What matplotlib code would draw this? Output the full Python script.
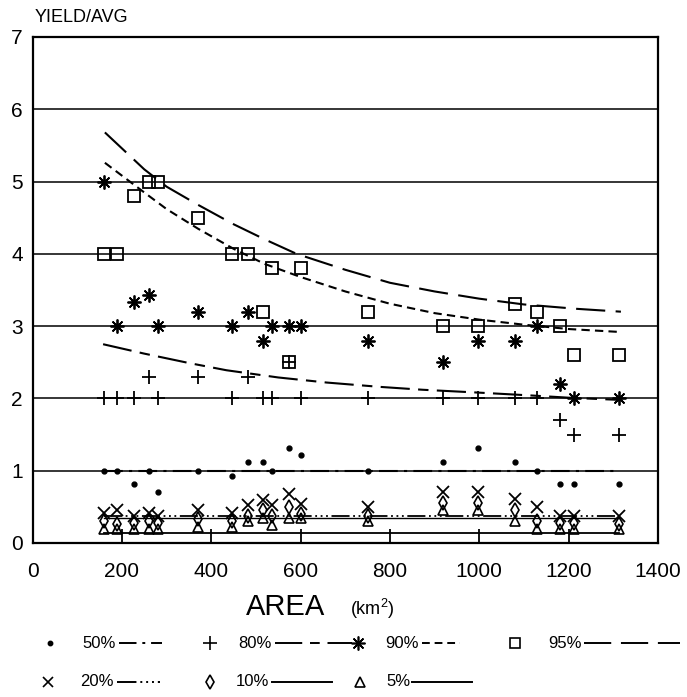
import matplotlib
matplotlib.use("Agg")
import matplotlib.pyplot as plt
import numpy as np

plt.rcParams['font.family'] = ['Liberation Sans', 'DejaVu Sans']

# station areas (km2)
area = [160, 190, 228, 260, 280, 370, 447, 482, 516, 537,
        573, 600, 752, 918, 997, 1079, 1130, 1180, 1212, 1312]

# observed yield/avg for each exceedance level
p50 = [1.0, 1.0, 0.82, 1.0, 0.71, 1.0, 0.92, 1.12, 1.12, 1.0,
       1.32, 1.22, 1.0, 1.12, 1.32, 1.12, 1.0, 0.81, 0.81, 0.81]
p80 = [2.0, 2.0, 2.0, 2.3, 2.0, 2.3, 2.0, 2.3, 2.0, 2.0,
       2.5, 2.0, 2.0, 2.0, 2.0, 2.0, 2.0, 1.7, 1.5, 1.5]
p90 = [5.0, 3.0, 3.33, 3.43, 3.0, 3.2, 3.0, 3.2, 2.8, 3.0,
       3.0, 3.0, 2.8, 2.5, 2.8, 2.8, 3.0, 2.2, 2.0, 2.0]
p95 = [4.0, 4.0, 4.8, 5.0, 5.0, 4.5, 4.0, 4.0, 3.2, 3.8,
       2.5, 3.8, 3.2, 3.0, 3.0, 3.3, 3.2, 3.0, 2.6, 2.6]
p20 = [0.41, 0.46, 0.37, 0.41, 0.37, 0.46, 0.41, 0.52, 0.6, 0.52,
       0.68, 0.54, 0.5, 0.71, 0.71, 0.61, 0.5, 0.37, 0.37, 0.38]
p10 = [0.3, 0.26, 0.28, 0.3, 0.27, 0.33, 0.3, 0.38, 0.45, 0.38,
       0.5, 0.4, 0.38, 0.55, 0.55, 0.45, 0.3, 0.27, 0.27, 0.26]
p05 = [0.2, 0.2, 0.2, 0.2, 0.2, 0.22, 0.22, 0.3, 0.35, 0.25,
       0.35, 0.35, 0.3, 0.45, 0.45, 0.3, 0.2, 0.2, 0.2, 0.2]

# fitted curves
c95_x = [162, 250, 300, 370, 450, 520, 591, 700, 800, 900, 1000, 1100, 1217, 1317]
c95_y = [5.68, 5.17, 4.93, 4.68, 4.41, 4.2, 4.0, 3.78, 3.6, 3.48, 3.38, 3.3, 3.24, 3.2]
c90_x = [162, 250, 300, 370, 450, 520, 600, 700, 800, 900, 1000, 1100, 1200, 1313]
c90_y = [5.26, 4.85, 4.62, 4.35, 4.07, 3.86, 3.68, 3.48, 3.31, 3.18, 3.09, 3.02, 2.96, 2.92]
c80_x = [158, 250, 350, 434, 550, 658, 777, 873, 1000, 1119, 1200, 1313]
c80_y = [2.75, 2.62, 2.49, 2.39, 2.29, 2.22, 2.16, 2.12, 2.08, 2.04, 2.01, 1.98]
flat_x = [160, 1312]
c50_y = [1.0, 1.0]
c20_y = [0.37, 0.37]
c10_y = [0.35, 0.35]
c05_y = [0.14, 0.14]

x_ticks = [0, 200, 400, 600, 800, 1000, 1200, 1400]
y_ticks = [0, 1, 2, 3, 4, 5, 6, 7]

ls50 = (0, (9, 3, 1.5, 3))
ls80 = (0, (14, 4, 5, 4))
ls90 = (0, (4, 2.5))
ls95 = (0, (14, 5))
ls20 = (0, (10, 2, 1, 2, 1, 2, 1, 2))
aster = (8, 2, 0)

fig = plt.figure(figsize=(6.87, 6.97), dpi=100)
ax = fig.add_axes([32.5/687, 1-543/697, (658-32.5)/687, (543-37)/697])

for y in y_ticks[1:-1]:
    ax.axhline(y, color='black', lw=1.1, zorder=1)

lw = 1.5
ax.plot(c95_x, c95_y, color='black', lw=lw, linestyle=ls95)
ax.plot(c90_x, c90_y, color='black', lw=lw, linestyle=ls90)
ax.plot(c80_x, c80_y, color='black', lw=lw, linestyle=ls80)
ax.plot(flat_x, c50_y, color='black', lw=lw, linestyle=ls50)
ax.plot(flat_x, c20_y, color='black', lw=1.3, linestyle=ls20)
ax.plot(flat_x, c10_y, color='black', lw=1.0)
ax.plot(flat_x, c05_y, color='black', lw=1.3)

mk = dict(linestyle='none', color='black')
ax.plot(area, p50, marker='o', ms=3.5, **mk)
ax.plot(area, p80, marker='+', ms=10, mew=1.3, **mk)
ax.plot(area, p90, marker=aster, ms=10, mew=1.3, **mk)
ax.plot(area, p95, marker='s', ms=9, mew=1.3, mfc='none', **mk)
ax.plot(area, p20, marker='x', ms=8, mew=1.3, **mk)
ax.plot(area, p10, marker='d', ms=7, mew=1.2, mfc='none', **mk)
ax.plot(area, p05, marker='^', ms=7, mew=1.2, mfc='none', **mk)

ax.set_xlim(0, 1400)
ax.set_ylim(0, 7)
ax.set_xticks(x_ticks)
ax.set_yticks(y_ticks)
ax.tick_params(axis='x', direction='in', length=10, width=1.3, pad=14, labelsize=15)
ax.tick_params(axis='y', length=0, pad=7, labelsize=15)
for s in ax.spines.values():
    s.set_linewidth(1.6)

fig.text(35/687, 1-17/697, 'YIELD/AVG', fontsize=13, ha='left', va='center')
fig.text(286/687, 1-607/697, 'AREA', fontsize=21, ha='center', va='center')
fig.text(350/687, 1-609/697, r'(km$^{\mathregular{2}}$)', fontsize=13, ha='left', va='center')

# legend drawn in pixel coordinates
lax = fig.add_axes([0, 0, 1, 1])
lax.set_xlim(0, 687)
lax.set_ylim(697, 0)
lax.set_axis_off()
lax.patch.set_alpha(0)

r1, r2 = 643, 682
items = [
    (50, r1, 'o', 3, 82, '50%', 119, 162, ls50),
    (210, r1, '+', 10, 238, '80%', 275, 352, ls80),
    (358, r1, aster, 10, 385, '90%', 422, 460, ls90),
    (515, r1, 's', 7, 548, '95%', 584, 680, ls95),
    (48, r2, 'x', 7, 80, '20%', 117, 160, ls20),
    (210, r2, 'd', 7, 236, '10%', 272, 332, '-'),
    (360, r2, '^', 7, 386, '5%', 412, 472, '-'),
]
for mx, my, m, ms, tx, lab, l0, l1, ls in items:
    lax.plot([mx], [my], marker=m, ms=ms, mew=1.2, color='black',
             mfc='none' if m in ('s', 'd', '^') else 'black', linestyle='none')
    lax.text(tx, my, lab, fontsize=12, ha='left', va='center')
    lax.plot([l0, l1], [my, my], color='black', lw=1.4, linestyle=ls)

fig.savefig('out.png', dpi=100)
